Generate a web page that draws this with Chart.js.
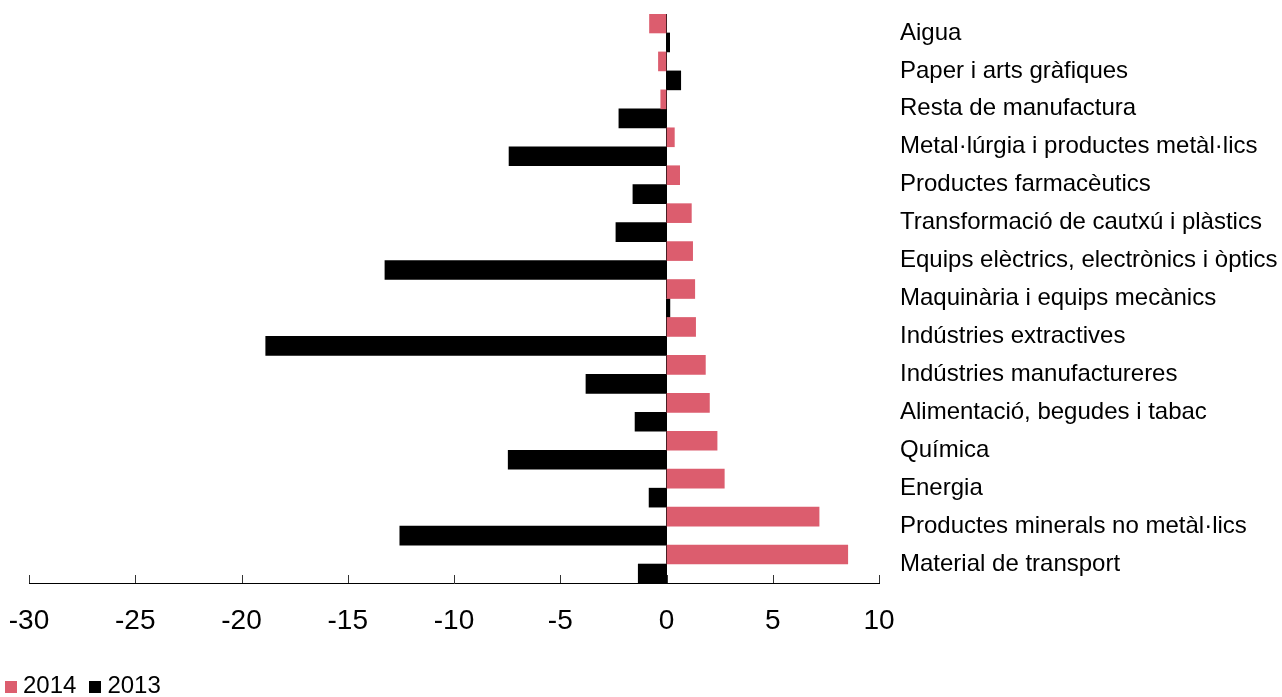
<!DOCTYPE html>
<html>
<head>
<meta charset="utf-8">
<script src="https://cdn.jsdelivr.net/npm/chart.js@4.4.0/dist/chart.umd.min.js"></script>
<style>
  body { margin: 0; background: #fff; }
  #wrap { position: relative; width: 1282px; height: 697px; }
  canvas { display: block; }
  #legend { position: absolute; left: 5px; top: 671px; font: 24px 'Liberation Sans', Arial, sans-serif; color: #000; display: flex; align-items: center; }
  .sw { display: inline-block; width: 12px; height: 12px; margin-right: 6px; margin-top: 4px; }
  .item { display: flex; align-items: center; margin-right: 13px; }
</style>
</head>
<body>
<div id="wrap">
  <canvas id="chart" width="1282" height="697"></canvas>
  <div id="legend"></div>
</div>
<script>
const categories = [
  'Aigua',
  'Paper i arts gràfiques',
  'Resta de manufactura',
  'Metal·lúrgia i productes metàl·lics',
  'Productes farmacèutics',
  'Transformació de cautxú i plàstics',
  'Equips elèctrics, electrònics i òptics',
  'Maquinària i equips mecànics',
  'Indústries extractives',
  'Indústries manufactureres',
  'Alimentació, begudes i tabac',
  'Química',
  'Energia',
  'Productes minerals no metàl·lics',
  'Material de transport'
];
const values2014 = [-0.8, -0.38, -0.27, 0.37, 0.62, 1.17, 1.23, 1.33, 1.37, 1.83, 2.02, 2.38, 2.72, 7.18, 8.53];
const values2013 = [0.15, 0.67, -2.24, -7.41, -1.58, -2.38, -13.25, 0.16, -18.86, -3.79, -1.48, -7.45, -0.82, -12.55, -1.33];
const xTicks = [-30, -25, -20, -15, -10, -5, 0, 5, 10];

const pink = '#dc5d6e';
const font = "'Liberation Sans', Arial, sans-serif";

// small tick marks pointing up from the x axis
const innerTicks = {
  id: 'innerTicks',
  afterDraw(chart) {
    const ctx = chart.ctx;
    const x = chart.scales.x;
    const bottom = chart.chartArea.bottom;
    ctx.save();
    ctx.strokeStyle = '#333';
    ctx.lineWidth = 1;
    xTicks.forEach(v => {
      const px = Math.round(x.getPixelForValue(v)) + 0.5;
      ctx.beginPath();
      ctx.moveTo(px, bottom - 8);
      ctx.lineTo(px, bottom);
      ctx.stroke();
    });
    ctx.restore();
  }
};

const chart = new Chart(document.getElementById('chart'), {
  type: 'bar',
  data: {
    labels: categories,
    datasets: [
      { label: '2014', data: values2014, backgroundColor: pink },
      { label: '2013', data: values2013, backgroundColor: '#000' }
    ]
  },
  options: {
    indexAxis: 'y',
    responsive: false,
    animation: false,
    barPercentage: 1,
    categoryPercentage: 1,
    layout: { padding: { top: 14, left: 29, right: 0, bottom: 0 } },
    plugins: { legend: { display: false }, tooltip: { enabled: false } },
    scales: {
      x: {
        min: -30,
        max: 10,
        z: 1,
        afterBuildTicks: s => { s.ticks = xTicks.map(v => ({ value: v })); },
        ticks: { font: { family: font, size: 28 }, color: '#000', padding: 21 },
        grid: {
          drawTicks: false,
          color: c => (c.tick && c.tick.value === 0 ? '#000' : 'rgba(0,0,0,0)'),
          lineWidth: 1
        },
        border: { display: true, color: '#000', width: 1 },
        afterFit: s => { s.height = 114; s.paddingLeft = 0; s.paddingRight = 0; }
      },
      y: {
        position: 'right',
        ticks: { font: { family: font, size: 24 }, color: '#000', padding: 21, crossAlign: 'near' },
        grid: { display: false, drawTicks: false },
        border: { display: false },
        afterFit: s => { s.width = 403; s.paddingTop = 0; s.paddingBottom = 0; }
      }
    }
  },
  plugins: [innerTicks]
});

const legend = document.getElementById('legend');
chart.data.datasets.forEach(ds => {
  const item = document.createElement('span');
  item.className = 'item';
  const sw = document.createElement('span');
  sw.className = 'sw';
  sw.style.background = ds.backgroundColor;
  item.appendChild(sw);
  item.appendChild(document.createTextNode(ds.label));
  legend.appendChild(item);
});
</script>
</body>
</html>
